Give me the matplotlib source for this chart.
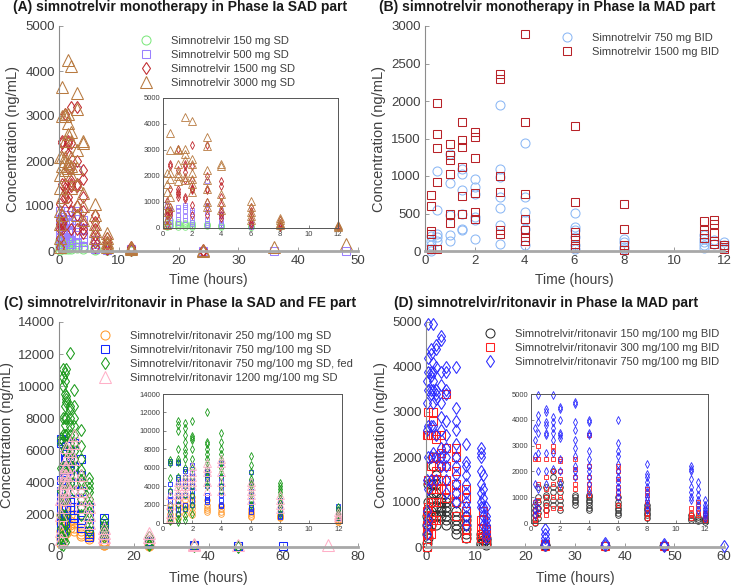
import matplotlib
matplotlib.use('Agg')
import matplotlib.pyplot as plt

plt.rcParams['font.family'] = ['Liberation Sans', 'DejaVu Sans']

W, H = 733, 588

# ---------------- (A) simnotrelvir SAD ----------------
a_tiempos = [0.25, 0.5, 1, 1.5, 2, 3, 4, 6, 8, 12, 24, 36, 48]
a150 = [[250, 150, 80, 30], [300, 200, 120, 60], [250, 150, 100, 50], [200, 150, 100, 50],
        [200, 130, 80, 40], [150, 100, 60], [120, 80, 50], [60, 40, 20], [30, 20], [10], [], [], []]
a500 = [[900, 700, 500, 300, 150], [750, 600, 400, 250, 100], [800, 700, 500, 350, 200],
        [900, 800, 650, 450, 300], [700, 600, 400, 250, 150], [1800, 900, 600, 350, 200, 100],
        [700, 500, 300, 200, 100], [250, 150, 100, 50], [100, 60, 30], [40, 20], [10], [5], [5]]
a1500 = [[1050, 700, 600, 500, 300, 100], [2450, 2400, 1500, 800, 650, 600, 500],
         [3050, 2250, 1500, 1400, 1300, 1200], [2450, 2400, 2150, 1850, 1200, 1100],
         [3200, 2400, 1850, 1550, 1500, 1450, 900, 500], [3200, 2000, 1500, 1450, 1000, 800, 500],
         [1800, 1600, 1200, 900, 600, 500, 400], [800, 650, 500, 350, 200, 100],
         [300, 200, 150, 100, 50], [80, 50, 30], [30, 10, 0], [], []]
a3000 = [[2100, 1700, 1400, 900, 600, 300, 100], [3650, 3000, 2100, 1900, 1200, 800],
         [3050, 3000, 2450, 2100, 2000, 1800], [4250, 3050, 2850, 2600, 1950, 1850],
         [4100, 2650, 2450, 2100, 1900, 1700, 1400], [3500, 3150, 2250, 1850, 1500, 1000, 800],
         [2450, 2400, 1300, 1000, 700], [1050, 800, 600, 450, 300], [400, 300, 200, 150, 100],
         [100, 60, 40], [20, 10], [100], [150]]

# ---------------- (B) simnotrelvir MAD ----------------
b_tiempos = [0.25, 0.5, 1, 1.5, 2, 3, 4, 6, 8, 11.2, 11.6, 12]
b750 = [[195, 140, 75, 30, 5], [1070, 545, 230, 185, 140], [1300, 910, 475, 210, 140],
        [1100, 1030, 810, 490, 300, 275], [965, 855, 765, 455, 410, 165],
        [1945, 1100, 990, 720, 580, 345, 100], [1435, 720, 520, 410, 300, 75],
        [505, 320, 275, 185, 75, 30], [165, 120, 60, 30], [210, 165, 120, 75, 45],
        [150, 100], [120, 75, 45]]
b1500 = [[750, 600, 270, 230, 30], [1975, 1565, 1375, 920, 30], [1425, 1285, 1210, 1025, 500, 375],
         [1720, 1475, 1390, 1120, 730, 500], [1590, 1520, 1245, 775, 520, 430],
         [2360, 2300, 1000, 790, 275, 230], [2890, 1720, 765, 430, 280, 190, 140],
         [1665, 655, 250, 180, 100, 45], [630, 300, 75, 20], [400, 275, 230, 180],
         [410, 365, 240, 140, 100], [85, 55, 30]]

# ---------------- (C) simnotrelvir/ritonavir SAD y FE ----------------
c_tiempos = [0.5, 1, 1.5, 2, 3, 4, 6, 8, 12, 24, 36, 48, 60, 72]
c250 = [[2000, 1500, 1000, 500, 200], [2500, 2000, 1500, 1000, 500], [2500, 2000, 1800, 1500, 1000],
        [2800, 2400, 2000, 1600, 1200, 900], [2500, 2000, 1600, 1400, 1200],
        [2000, 1800, 1500, 1200, 1000], [1500, 1200, 1000, 800, 700], [900, 800, 700, 600, 500],
        [400, 300, 200, 150, 100], [100, 50], [], [], [], []]
c750 = [[6700, 6500, 4200, 3500, 3000, 2500, 2000, 1500, 1000, 500],
        [6600, 6500, 5000, 4800, 4500, 3000, 2500, 2000, 1500, 1000],
        [5900, 5600, 5000, 4500, 4000, 3000, 2000, 1500],
        [6300, 5500, 5000, 4500, 4000, 3500, 3000, 2500, 2000],
        [5900, 5600, 5200, 4800, 4000, 3000, 2800, 2500, 2300],
        [6500, 5000, 4500, 4000, 3500, 3000, 2500, 2000, 1800],
        [5500, 4500, 3500, 2500, 2000, 1700, 1500, 1200], [2500, 2000, 1500, 1000, 800, 600],
        [1800, 1500, 1200, 800, 500], [400, 300, 200], [150, 80], [80, 50], [50], []]
c750_fed = [[6800, 6500, 4900, 3500, 2000, 1200, 600, 200],
            [11100, 10600, 10000, 8000, 7000, 6600, 5000, 4000, 3000, 2000, 1000, 400, 100],
            [10800, 10300, 9500, 8800, 8000, 7600, 7000, 6000, 5000, 4000, 3000, 1500, 800, 300],
            [11100, 9400, 9200, 9000, 8000, 7000, 6000, 5000, 4000, 3000, 2000, 1000],
            [12100, 8800, 8600, 8000, 7500, 7000, 6500, 6000, 5500, 5000, 4500, 4000],
            [9800, 8800, 8000, 7500, 7000, 6500, 6000, 5500, 5000, 4000, 3500],
            [7300, 6300, 5500, 4800, 4500, 4200, 4000, 3500, 3000, 2500, 2000],
            [4300, 4000, 3700, 3400, 3000, 2600, 2200, 1800, 1400, 1000],
            [1700, 1400, 1200, 1000, 800, 600], [600, 400, 200, 100], [100, 50], [40, 20], [], []]
c1200 = [[3000, 2000, 1000, 500], [4500, 4000, 3500, 3000, 2500], [5000, 4500, 4000, 3500, 3000],
         [6200, 5500, 5000, 4500, 4000], [6500, 6000, 5500, 4500, 3500],
         [7000, 6500, 5500, 4500, 3500], [4500, 4000, 3500, 3000, 2500], [3000, 2500, 2000, 1500],
         [1200, 900, 600, 400], [900, 600, 400], [200, 100], [100], [], [100]]

# ---------------- (D) simnotrelvir/ritonavir MAD ----------------
d_tiempos = [0.25, 0.5, 1, 1.5, 2, 3, 4, 6, 8, 11, 11.5, 12, 24, 36, 48, 60]
d150 = [[700, 500, 300, 100, 0], [1400, 1000, 800, 600, 400, 200], [1400, 1100, 1000, 800, 700, 500],
        [2000, 1800, 1400, 1200, 900, 700], [1600, 1400, 1200, 900, 700, 500],
        [1100, 1000, 900, 800, 700], [1100, 1000, 900, 800, 700, 600, 500],
        [1000, 800, 700, 600, 500, 400, 300], [700, 600, 500, 400, 300, 200],
        [300, 200, 100], [250, 150, 80], [200, 150, 100, 50], [40, 20], [20], [20], []]
d300 = [[2500, 800, 500, 300, 100, 0], [3000, 2500, 1500, 900, 600, 300],
        [2500, 1800, 1300, 1000, 700, 500, 300], [3000, 2800, 2500, 2000, 1500, 1000, 600],
        [2500, 2400, 2000, 1700, 1300, 1000, 600], [2500, 2100, 1800, 1500, 1300],
        [3400, 2200, 1800, 1500, 1300, 1100], [2200, 2000, 1700, 1400, 1200, 1000, 700],
        [1300, 1100, 800, 600, 400, 200], [600, 400, 300, 200], [800, 600, 400, 300],
        [400, 300, 200, 100], [60, 30], [30], [30], []]
d750 = [[3700, 3200, 2600, 1500, 800, 500, 300], [4950, 4200, 3900, 3500, 2700, 2000, 1300, 600],
        [4400, 4300, 3900, 3800, 3500, 3400, 2700, 2000, 1500],
        [4950, 4100, 3900, 3700, 3500, 3200, 2700, 2100],
        [4500, 4400, 4000, 3500, 3400, 3300, 2500, 2000, 1500],
        [4700, 4600, 3900, 3600, 3200, 2900, 2600, 2200, 2000, 1800],
        [4000, 3900, 3500, 3400, 2800, 2500, 2200, 2000, 1800, 1500, 1200],
        [4000, 3100, 2800, 2600, 2300, 2000, 1800, 1600, 1400, 1200, 1000],
        [2300, 1900, 1800, 1600, 1400, 1200, 1000, 900, 700, 500],
        [2200, 2100, 2000, 1700, 1400, 1200, 1000, 900], [1600, 1300, 1100, 900, 700, 500],
        [900, 700, 600, 500, 400, 300, 200], [400, 300, 200, 100, 50], [80, 40], [60, 30], [30]]

gris_eje = '#8c8c8c'
gris_txt = '#404040'
tam_marcador = {'o': 6.5, 's': 5.8, '^': 8.2, 'd': 6.2}


def px_ax(left, top, right, bottom):
    return [left / W, 1 - bottom / H, (right - left) / W, (bottom - top) / H]


def expandir(tiempos, valores, tmax):
    xs, ys = [], []
    for t, vals in zip(tiempos, valores):
        if t > tmax:
            continue
        for v in vals:
            xs.append(t)
            ys.append(v)
    return xs, ys


def graficar(ax, tiempos, series, escala, lw, tmax=1000):
    for valores, marcador, color, etiqueta in series:
        xs, ys = expandir(tiempos, valores, tmax)
        ax.plot(xs, ys, linestyle='none', marker=marcador, mfc='none', mec=color,
                ms=tam_marcador[marcador] * escala, mew=lw, clip_on=False, label=etiqueta)


def estilo_principal(ax, xlim, ylim, xticks, yticks, xlab_y, ylab_x):
    ax.set_xlim(xlim)
    ax.set_ylim(ylim)
    ax.set_xticks(xticks)
    ax.set_yticks(yticks)
    ax.set_facecolor('none')
    for s in ['top', 'right']:
        ax.spines[s].set_visible(False)
    ax.spines['left'].set_color(gris_eje)
    ax.spines['left'].set_linewidth(0.8)
    ax.spines['bottom'].set_color('#a8a8a8')
    ax.spines['bottom'].set_linewidth(2)
    ax.tick_params(direction='in', length=3, width=0.6, color=gris_eje,
                   labelcolor=gris_txt, labelsize=9.5, pad=3)
    ax.set_xlabel('Time (hours)', fontsize=10, color=gris_txt)
    ax.set_ylabel('Concentration (ng/mL)', fontsize=10.5, color=gris_txt)
    ax.xaxis.set_label_coords(0.5, xlab_y)
    ax.yaxis.set_label_coords(ylab_x, 0.5)


def estilo_inset(ax, xlim, ylim, yticks):
    ax.set_xlim(xlim)
    ax.set_ylim(ylim)
    ax.set_xticks([0, 2, 4, 6, 8, 10, 12])
    ax.set_yticks(yticks)
    ax.set_facecolor('white')
    for s in ax.spines.values():
        s.set_color('#555555')
        s.set_linewidth(0.7)
    ax.tick_params(direction='in', length=2, width=0.5, color='#555555',
                   labelcolor=gris_txt, labelsize=5.5, pad=2)


def leyenda(ax, x, y):
    ax.legend(loc='upper left', bbox_to_anchor=(x / W, 1 - y / H), bbox_transform=fig.transFigure,
              frameon=False, fontsize=8, handlelength=1.0, handletextpad=1.75,
              labelspacing=0.36, borderpad=0, borderaxespad=0, labelcolor=gris_txt)


fig = plt.figure(figsize=(W / 100, H / 100), dpi=100)

# Panel A
serie_a = [(a150, 'o', '#7fe87f', 'Simnotrelvir 150 mg SD'),
           (a500, 's', '#9a80ff', 'Simnotrelvir 500 mg SD'),
           (a1500, 'd', '#c0282d', 'Simnotrelvir 1500 mg SD'),
           (a3000, '^', '#b87a40', 'Simnotrelvir 3000 mg SD')]
ax_a = fig.add_axes(px_ax(59, 26, 358, 251))
estilo_principal(ax_a, (0, 50), (0, 5000), range(0, 51, 10), range(0, 5001, 1000), -0.098, -0.13)
graficar(ax_a, a_tiempos, serie_a, 1.0, 0.75)
leyenda(ax_a, 140, 36)
ins_a = fig.add_axes(px_ax(163, 98, 338, 228))
estilo_inset(ins_a, (0, 12), (0, 5000), range(0, 5001, 1000))
graficar(ins_a, a_tiempos, serie_a, 0.62, 0.6, tmax=12)

# Panel B
serie_b = [(b750, 'o', '#8cb8f5', 'Simnotrelvir 750 mg BID'),
           (b1500, 's', '#b82228', 'Simnotrelvir 1500 mg BID')]
ax_b = fig.add_axes(px_ax(425, 26, 724, 251))
estilo_principal(ax_b, (0, 12), (0, 3000), range(0, 13, 2), range(0, 3001, 500), -0.098, -0.13)
graficar(ax_b, b_tiempos, serie_b, 1.0, 0.75)
leyenda(ax_b, 561, 33)

# Panel C
serie_c = [(c250, 'o', '#ff9a2e', 'Simnotrelvir/ritonavir 250 mg/100 mg SD'),
           (c750, 's', '#1428ff', 'Simnotrelvir/ritonavir 750 mg/100 mg SD'),
           (c750_fed, 'd', '#1a9a1a', 'Simnotrelvir/ritonavir 750 mg/100 mg SD, fed'),
           (c1200, '^', '#ffb0c8', 'Simnotrelvir/ritonavir 1200 mg/100 mg SD')]
ax_c = fig.add_axes(px_ax(59, 322, 358, 547))
estilo_principal(ax_c, (0, 80), (0, 14000), range(0, 81, 20), range(0, 14001, 2000), -0.107, -0.149)
graficar(ax_c, c_tiempos, serie_c, 1.0, 0.75)
leyenda(ax_c, 99, 331)
ins_c = fig.add_axes(px_ax(163, 394, 342, 523))
estilo_inset(ins_c, (0, 12.25), (0, 14000), range(0, 14001, 2000))
graficar(ins_c, c_tiempos, serie_c, 0.62, 0.6, tmax=12)

# Panel D
serie_d = [(d150, 'o', '#2a2a2a', 'Simnotrelvir/ritonavir 150 mg/100 mg BID'),
           (d300, 's', '#ff2020', 'Simnotrelvir/ritonavir 300 mg/100 mg BID'),
           (d750, 'd', '#2a2aff', 'Simnotrelvir/ritonavir 750 mg/100 mg BID')]
ax_d = fig.add_axes(px_ax(426, 322, 724, 547))
estilo_principal(ax_d, (0, 60), (0, 5000), range(0, 61, 10), range(0, 5001, 1000), -0.107, -0.129)
graficar(ax_d, d_tiempos, serie_d, 1.0, 0.75)
leyenda(ax_d, 484, 329)
ins_d = fig.add_axes(px_ax(531, 394, 708, 523))
estilo_inset(ins_d, (0, 12.2), (0, 5000), range(0, 5001, 1000))
graficar(ins_d, d_tiempos, serie_d, 0.62, 0.6, tmax=12)

# Títulos
titulos = [(13, 7, '(A) simnotrelvir monotherapy in Phase Ia SAD part'),
           (379, 7, '(B) simnotrelvir monotherapy in Phase Ia MAD part'),
           (4, 303, '(C) simnotrelvir/ritonavir in Phase Ia SAD and FE part'),
           (394, 303, '(D) simnotrelvir/ritonavir in Phase Ia MAD part')]
for x, y, texto in titulos:
    fig.text(x / W, 1 - y / H, texto, ha='left', va='center', fontsize=10, fontweight='bold',
             color='#1a1a1a')

fig.savefig('out.png', dpi=100)
